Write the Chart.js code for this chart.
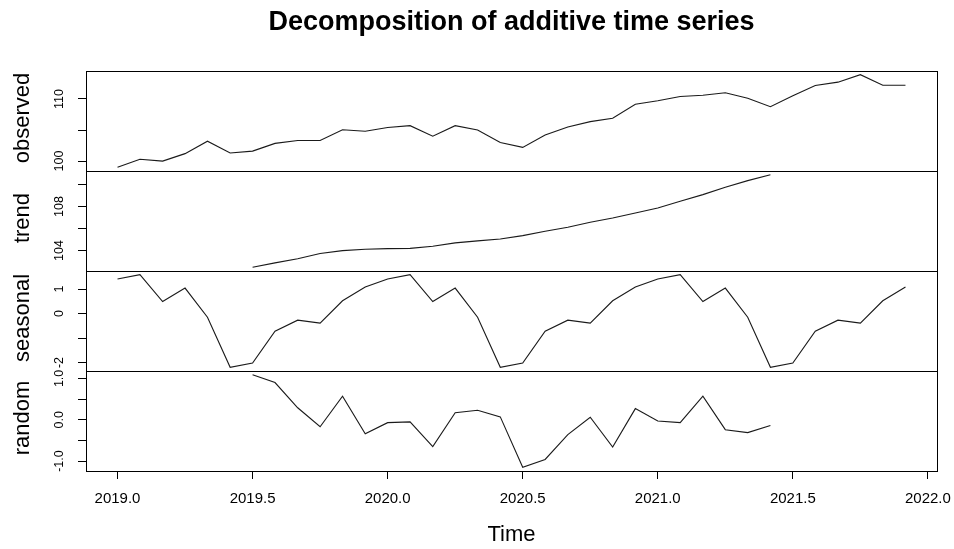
<!DOCTYPE html>
<html><head><meta charset="utf-8">
<script src="https://cdn.jsdelivr.net/npm/chart.js@4/dist/chart.umd.min.js"></script>
<style>html,body{margin:0;padding:0;background:#fff;}canvas{display:block}</style>
</head><body>
<canvas id="c" width="954" height="549"></canvas>
<script>
const chartTitle = 'Decomposition of additive time series';
const xTitle = 'Time';
const time = [2019.000,2019.083,2019.167,2019.250,2019.333,2019.417,2019.500,2019.583,2019.667,2019.750,2019.833,2019.917,
              2020.000,2020.083,2020.167,2020.250,2020.333,2020.417,2020.500,2020.583,2020.667,2020.750,2020.833,2020.917,
              2021.000,2021.083,2021.167,2021.250,2021.333,2021.417,2021.500,2021.583,2021.667,2021.750,2021.833,2021.917];
const observed = [99.0,100.3,100.0,101.2,103.2,101.3,101.6,102.85,103.3,103.3,105.05,104.8,
                  105.4,105.7,104.0,105.7,105.0,103.0,102.2,104.2,105.5,106.35,106.9,109.15,
                  109.7,110.4,110.6,111.0,110.1,108.75,110.5,112.15,112.7,113.9,112.2,112.2];
const trend = [null,null,null,null,null,null,102.48,102.88,103.25,103.73,104.0,104.12,
               104.18,104.2,104.39,104.7,104.88,105.06,105.36,105.76,106.12,106.58,106.97,107.42,
               107.88,108.48,109.09,109.76,110.36,110.9,null,null,null,null,null,null];
const seasonal = [1.41,1.585,0.49,1.04,-0.15,-2.195,-2.02,-0.72,-0.27,-0.39,0.52,1.08,
                  1.41,1.585,0.49,1.04,-0.15,-2.195,-2.02,-0.72,-0.27,-0.39,0.52,1.08,
                  1.41,1.585,0.49,1.04,-0.15,-2.195,-2.02,-0.72,-0.27,-0.39,0.52,1.08];
const random = [null,null,null,null,null,null,1.09,0.90,0.29,-0.17,0.57,-0.34,
                -0.07,-0.05,-0.65,0.17,0.23,0.07,-1.15,-0.96,-0.36,0.06,-0.66,0.27,
                -0.03,-0.07,0.57,-0.24,-0.31,-0.14,null,null,null,null,null,null];
const panelNames = ['observed','trend','seasonal','random'];
const panelSeries = [observed, trend, seasonal, random];
const panelTickValues = [[100,105,110],[104,106,108,110],[-2,-1,0,1],[-1,-0.5,0,0.5,1]];
const panelTickLabels = [['100',null,'110'],['104',null,'108',null],['-2',null,'0','1'],['-1.0',null,'0.0',null,'1.0']];
const xTickValues = [2019,2019.5,2020,2020.5,2021,2021.5,2022];
const xTickLabels = ['2019.0','2019.5','2020.0','2020.5','2021.0','2021.5','2022.0'];

function rRange(arr){
  const v = arr.filter(d => d !== null);
  const mn = Math.min(...v), mx = Math.max(...v), p = (mx - mn) * 0.04;
  return [mn - p, mx + p];
}
const tr = rRange(time);
const FONT = "'Liberation Sans', Arial, sans-serif";

const scales = {
  x: {
    type: 'linear', min: tr[0], max: tr[1],
    afterBuildTicks: s => { s.ticks = xTickValues.map(v => ({value: v})); },
    afterFit: s => { s.height = 78; },
    ticks: {display: false},
    grid: {drawOnChartArea: false, drawTicks: true, tickLength: 8, color: '#000', lineWidth: 1},
    border: {display: false}
  }
};
for (let k = panelNames.length - 1; k >= 0; k--) {
  const r = rRange(panelSeries[k]);
  scales['p' + k] = {
    type: 'linear', position: 'left', stack: 'panels', stackWeight: 1,
    min: r[0], max: r[1],
    afterBuildTicks: s => { s.ticks = panelTickValues[k].map(v => ({value: v})); },
    afterFit: s => { s.width = 86; },
    ticks: {display: false},
    grid: {drawOnChartArea: false, drawTicks: true, tickLength: 8, color: '#000', lineWidth: 1},
    border: {display: false}
  };
}

const datasets = panelNames.map((n, k) => ({
  label: n, yAxisID: 'p' + k, xAxisID: 'x',
  data: time.map((t, i) => ({x: t, y: panelSeries[k][i]})),
  borderColor: '#1a1a1a', borderWidth: 1.1, pointRadius: 0, tension: 0, spanGaps: false, fill: false
}));

const deco = {
  id: 'deco',
  afterDraw(chart) {
    const ctx = chart.ctx, ca = chart.chartArea;
    ctx.save();
    ctx.fillStyle = '#000'; ctx.strokeStyle = '#000'; ctx.lineWidth = 1;
    const cx = (ca.left + ca.right) / 2;
    // title
    ctx.font = "bold 27px " + FONT;
    ctx.textAlign = 'center'; ctx.textBaseline = 'alphabetic';
    ctx.fillText(chartTitle, cx, 29.5);
    // panels
    panelNames.forEach((n, k) => {
      const s = chart.scales['p' + k];
      ctx.strokeRect(Math.round(ca.left) + 0.5, Math.round(s.top) + 0.5, Math.round(ca.right - ca.left), Math.round(s.bottom - s.top));
      const mid = (s.top + s.bottom) / 2;
      ctx.save();
      ctx.translate(23, mid - 3);
      ctx.rotate(-Math.PI / 2);
      ctx.font = "22px " + FONT;
      ctx.textAlign = 'center'; ctx.textBaseline = 'middle';
      ctx.fillText(n, 0, 0);
      ctx.restore();
      panelTickValues[k].forEach((v, j) => {
        const lab = panelTickLabels[k][j];
        if (lab === null) return;
        const y = s.getPixelForValue(v);
        ctx.save();
        ctx.translate(60, y);
        ctx.rotate(-Math.PI / 2);
        ctx.font = "12.5px " + FONT;
        ctx.textAlign = 'center'; ctx.textBaseline = 'middle';
        ctx.fillText(lab, 0, 0);
        ctx.restore();
      });
    });
    // x tick labels
    const xs = chart.scales.x;
    ctx.font = "15px " + FONT;
    ctx.textAlign = 'center'; ctx.textBaseline = 'middle';
    xTickValues.forEach((v, j) => ctx.fillText(xTickLabels[j], xs.getPixelForValue(v), 499));
    ctx.font = "22px " + FONT;
    ctx.fillText(xTitle, cx, 535);
    ctx.restore();
  }
};

new Chart(document.getElementById('c'), {
  type: 'line',
  data: {datasets},
  options: {
    responsive: false, animation: false, devicePixelRatio: 1,
    layout: {padding: {top: 71, right: 17, bottom: 0, left: 0}},
    plugins: {legend: {display: false}, title: {display: false}, tooltip: {enabled: false}},
    scales
  },
  plugins: [deco]
});
</script>
</body></html>
